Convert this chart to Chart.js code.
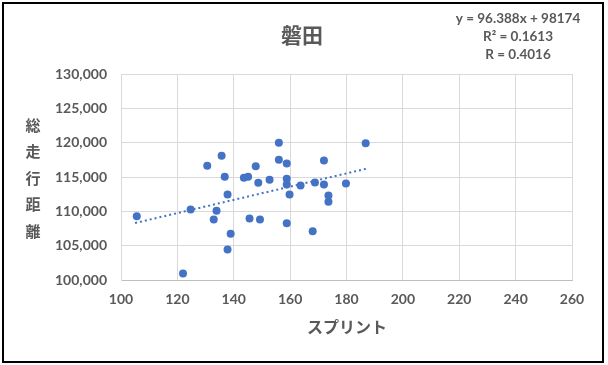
<!DOCTYPE html>
<html>
<head>
<meta charset="utf-8">
<script src="https://cdn.jsdelivr.net/npm/chart.js@4.4.1/dist/chart.umd.min.js"></script>
<style>
    html, body { margin: 0; padding: 0; background: #fff; }
    #wrap { width: 608px; height: 365px; position: relative; }
</style>
</head>
<body>
<div id="wrap"><canvas id="scatterChart" width="608" height="365"></canvas></div>
<script>
// スプリント / 総走行距離 (読み取り値)
const sprintValues = [105.6, 122, 124.7, 130.6, 135.7, 136.8, 137.8, 133.9, 132.9, 138.9,
    137.8, 143.6, 145.1, 148.7, 145.6, 149.3, 147.8, 152.7, 156, 156,
    158.8, 158.8, 158.8, 159.8, 158.8, 163.7, 168.8, 168, 172, 172,
    173.6, 173.6, 179.8, 186.8];
const distanceValues = [109300, 100950, 110250, 116650, 118100, 115050, 112450, 110100, 108800, 106750,
    104450, 114900, 115050, 114150, 108950, 108800, 116550, 114600, 120000, 117500,
    116950, 114750, 113900, 112450, 108250, 113750, 114200, 107100, 117400, 113900,
    112300, 111400, 114050, 119900];

// 近似曲線 (端点)
const trendX = [105, 187];
const trendY = [108300, 116200];

const xTicks = [100, 120, 140, 160, 180, 200, 220, 240, 260];
const yTicks = [100000, 105000, 110000, 115000, 120000, 125000, 130000];

const equationLines = ['y = 96.388x + 98174', 'R² = 0.1613', 'R = 0.4016'];
const yTitleChars = ['総', '走', '行', '距', '離'];

const gray = '#595959';
const blue = '#4472C4';

const decorations = {
    id: 'decorations',
    afterDraw(chart) {
        const ctx = chart.ctx;
        ctx.save();
        // 外枠
        ctx.strokeStyle = '#000';
        ctx.lineWidth = 2;
        ctx.strokeRect(3, 3, 600, 359);

        ctx.fillStyle = gray;
        ctx.textAlign = 'center';
        ctx.textBaseline = 'middle';

        // タイトル
        ctx.font = 'bold 21px "Noto Sans CJK JP"';
        ctx.fillText('磐田', 302, 35);

        // 回帰式
        ctx.font = 'bold 13.5px Lato';
        equationLines.forEach((t, i) => ctx.fillText(t, 518, 19 + i * 18));

        // 縦軸タイトル
        ctx.font = 'bold 15px "Noto Sans CJK JP"';
        yTitleChars.forEach((c, i) => ctx.fillText(c, 33, 125 + i * 26.5));

        // 横軸タイトル
        ctx.font = 'bold 16px "Noto Sans CJK JP"';
        ctx.fillText('スプリント', 347, 327);
        ctx.restore();
    }
};

const ctx = document.getElementById('scatterChart').getContext('2d');
new Chart(ctx, {
    type: 'scatter',
    data: {
        datasets: [{
            label: '総走行距離',
            data: sprintValues.map((x, i) => ({ x: x, y: distanceValues[i] })),
            backgroundColor: blue,
            borderWidth: 0,
            pointRadius: 4,
            order: 1
        }, {
            label: '線形近似',
            type: 'line',
            data: trendX.map((x, i) => ({ x: x, y: trendY[i] })),
            borderColor: blue,
            borderWidth: 2,
            borderDash: [2, 3],
            pointRadius: 0,
            fill: false,
            order: 2
        }]
    },
    options: {
        responsive: false,
        animation: false,
        layout: { padding: { left: 0, top: 74, right: 36, bottom: 0 } },
        plugins: {
            legend: { display: false },
            tooltip: { enabled: false }
        },
        scales: {
            x: {
                type: 'linear',
                min: 100,
                max: 260,
                afterFit: scale => { scale.height = 85; },
                afterBuildTicks: scale => { scale.ticks = xTicks.map(v => ({ value: v })); },
                grid: { color: '#D9D9D9', drawTicks: false },
                border: { color: '#BFBFBF' },
                ticks: {
                    padding: 11,
                    color: gray,
                    font: { family: 'Lato', size: 14, weight: 'bold' }
                }
            },
            y: {
                min: 100000,
                max: 130000,
                afterFit: scale => { scale.width = 121; },
                afterBuildTicks: scale => { scale.ticks = yTicks.map(v => ({ value: v })); },
                grid: { color: '#D9D9D9', drawTicks: false },
                border: { color: '#D9D9D9' },
                ticks: {
                    padding: 14,
                    color: gray,
                    font: { family: 'Lato', size: 14, weight: 'bold' },
                    callback: value => value.toLocaleString('en-US')
                }
            }
        }
    },
    plugins: [decorations]
});
</script>
</body>
</html>
